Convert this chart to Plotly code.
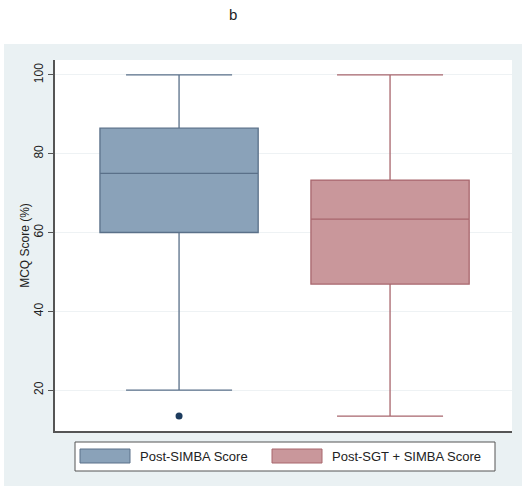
import plotly.graph_objects as go

# ---- data ----
groups = ["Post-SIMBA Score", "Post-SGT + SIMBA Score"]
positions = [0, 1]
q1 = [60.0, 46.9]
median = [75.0, 63.4]
q3 = [86.5, 73.3]
lower = [20.0, 13.4]
upper = [100.0, 100.0]
outlier_group = [0]
outlier_values = [13.4]
y_ticks = [20, 40, 60, 80, 100]

fill_colors = ["#8aa2b9", "#c9979b"]
line_colors = ["#5a7089", "#a8666d"]

W, H = 522, 486
L, R, T, B = 55, 10, 60, 55
pw, ph = W - L - R, H - T - B


def px(x):
    return (x - L) / pw


def py(y):
    return (H - B - y) / ph


fig = go.Figure()
for i in range(2):
    fig.add_trace(go.Box(
        x=[positions[i]], q1=[q1[i]], median=[median[i]], q3=[q3[i]],
        lowerfence=[lower[i]], upperfence=[upper[i]],
        name=groups[i], fillcolor=fill_colors[i],
        line=dict(color=line_colors[i], width=1.3),
        width=0.75, whiskerwidth=0.67, boxpoints=False, showlegend=False,
        hoverinfo="skip",
    ))

fig.add_trace(go.Scatter(
    x=[positions[g] for g in outlier_group], y=outlier_values, mode="markers",
    marker=dict(color="#1d3c5e", size=7), showlegend=False, hoverinfo="skip",
))

shapes = [
    # outer gray panel
    dict(type="rect", xref="paper", yref="paper", x0=px(4), x1=px(W + 5),
         y0=py(H + 5), y1=py(44), fillcolor="#eaf1f3", line=dict(width=0),
         layer="below"),
    # white plot region
    dict(type="rect", xref="paper", yref="paper", x0=0, x1=px(512),
         y0=0, y1=1, fillcolor="white", line=dict(width=0), layer="below"),
    # legend frame
    dict(type="rect", xref="paper", yref="paper", x0=px(75), x1=px(495),
         y0=py(471), y1=py(442), fillcolor="white",
         line=dict(color="#555555", width=1)),
]
annotations = [
    dict(text="b", x=px(233), y=py(14), xref="paper", yref="paper",
         showarrow=False, xanchor="center", yanchor="middle",
         font=dict(size=15, color="#222222")),
]
sw_x = [80, 272]
txt_x = [138, 330]
for i in range(2):
    shapes.append(dict(type="rect", xref="paper", yref="paper",
                       x0=px(sw_x[i]), x1=px(sw_x[i] + 50),
                       y0=py(463), y1=py(449), fillcolor=fill_colors[i],
                       line=dict(color=line_colors[i], width=1)))
    annotations.append(dict(text=groups[i], x=px(txt_x[i]), y=py(456),
                            xref="paper", yref="paper", showarrow=False,
                            xanchor="left", yanchor="middle",
                            font=dict(size=13, color="#222222")))

fig.update_layout(
    width=W, height=H,
    margin=dict(l=L, r=R, t=T, b=B),
    paper_bgcolor="white", plot_bgcolor="white",
    font=dict(family="Liberation Sans, Arial, sans-serif", color="#222222"),
    shapes=shapes, annotations=annotations,
    showlegend=False,
    xaxis=dict(range=[-0.588, 1.578], showticklabels=False, ticks="",
               showgrid=False, zeroline=False, showline=True,
               linecolor="#555555", linewidth=1.5, fixedrange=True),
    yaxis=dict(range=[9.6, 103.8], tickvals=y_ticks, ticks="outside",
               ticklen=5, tickcolor="#555555", tickangle=-90,
               tickfont=dict(size=12), showgrid=True, gridcolor="#eef2f4",
               gridwidth=1, zeroline=False, showline=True,
               linecolor="#555555", linewidth=1.5,
               title=dict(text="MCQ Score (%)", font=dict(size=12), standoff=0)),
)

fig.write_html("out.html", config={"displayModeBar": False},
               post_script="document.body.style.margin='0';document.body.style.overflow='hidden';")
